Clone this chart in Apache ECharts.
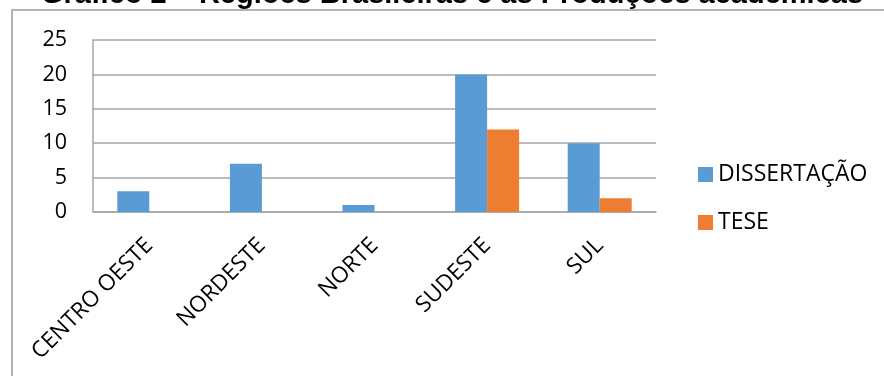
<!DOCTYPE html>
<html>
<head>
<meta charset="utf-8">
<script src="https://cdn.jsdelivr.net/npm/echarts@6/dist/echarts.min.js"></script>
<style>
  html, body { margin: 0; padding: 0; background: #ffffff; }
  #chart { width: 884px; height: 376px; }
</style>
</head>
<body>
<div id="chart"></div>
<script>
// Regiões brasileiras e número de produções acadêmicas
const titleText = 'Gráfico 2 – Regiões Brasileiras e as Produções acadêmicas';
const regioes = ['CENTRO OESTE', 'NORDESTE', 'NORTE', 'SUDESTE', 'SUL'];
const dissertacao = [3, 7, 1, 20, 10];
const tese = [null, null, null, 12, 2];
const seriesNames = ['DISSERTAÇÃO', 'TESE'];

const bodyFont = '"Open Sans", "Liberation Sans", sans-serif';

const chart = echarts.init(document.getElementById('chart'), null, { renderer: 'canvas' });

chart.setOption({
  backgroundColor: '#ffffff',
  animation: false,
  graphic: [
    {
      type: 'rect',
      shape: { x: 12, y: 10, width: 900, height: 400 },
      style: { fill: 'none', stroke: '#b4b4b4', lineWidth: 2 },
      silent: true
    },
    {
      type: 'text',
      x: 452,
      y: 9,
      style: {
        text: titleText,
        fill: '#000000',
        font: 'bold 29px "Liberation Sans", Arial, sans-serif',
        align: 'center',
        verticalAlign: 'bottom'
      },
      silent: true
    }
  ],
  legend: {
    orient: 'vertical',
    left: 698,
    top: 163,
    padding: 0,
    itemWidth: 15,
    itemHeight: 15,
    itemGap: 25,
    icon: 'rect',
    textStyle: { fontFamily: bodyFont, fontSize: 23, color: '#000000', padding: [0, 0, 0, 0] },
    data: seriesNames
  },
  grid: { left: 93, top: 40, right: 228, bottom: 164, containLabel: false },
  xAxis: {
    type: 'category',
    data: regioes,
    axisLine: { show: true, lineStyle: { color: '#a6a6a6', width: 1.5 } },
    axisTick: { show: false },
    axisLabel: {
      rotate: 45,
      margin: 30,
      interval: 0,
      fontFamily: bodyFont,
      fontSize: 22.5,
      color: '#000000'
    }
  },
  yAxis: {
    type: 'value',
    min: 0,
    max: 25,
    interval: 5,
    axisLine: { show: true, lineStyle: { color: '#a6a6a6', width: 1.5 } },
    axisTick: { show: false },
    splitLine: { lineStyle: { color: '#a6a6a6', width: 1.5 } },
    axisLabel: {
      margin: 26,
      fontFamily: bodyFont,
      fontSize: 21.5,
      color: '#000000'
    }
  },
  series: [
    {
      name: seriesNames[0],
      type: 'bar',
      data: dissertacao,
      barWidth: 32,
      barGap: '0%',
      itemStyle: { color: '#5b9bd5' }
    },
    {
      name: seriesNames[1],
      type: 'bar',
      data: tese,
      barWidth: 32,
      barGap: '0%',
      itemStyle: { color: '#ed7d31' }
    }
  ]
});
</script>
</body>
</html>
